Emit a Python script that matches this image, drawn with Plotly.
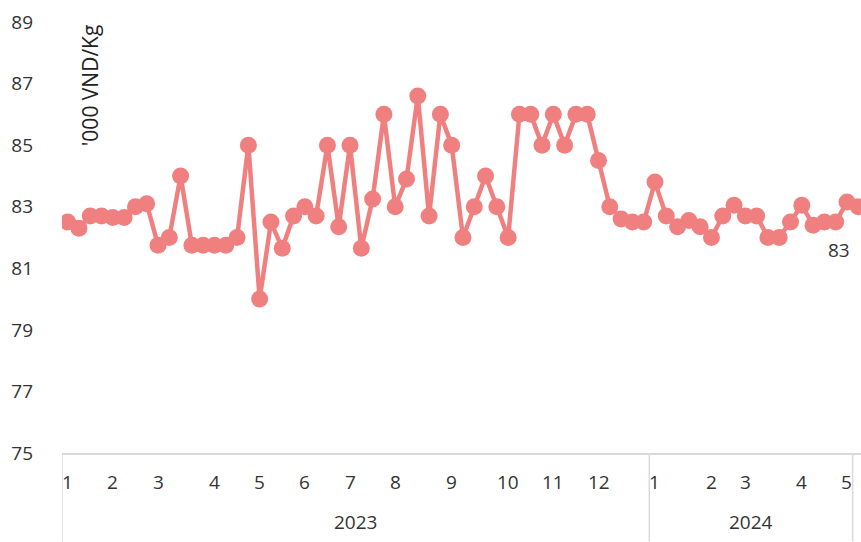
import plotly.graph_objects as go

# Weekly price series ('000 VND/Kg), Jan 2023 onward
values = [82.5, 82.3, 82.7, 82.7, 82.65, 82.65, 83.0, 83.1, 81.75, 82.0,
          84.0, 81.75, 81.75, 81.75, 81.75, 82.0, 85.0, 80.0, 82.5, 81.65,
          82.7, 83.0, 82.7, 85.0, 82.35, 85.0, 81.65, 83.25, 86.0, 83.0,
          83.9, 86.6, 82.7, 86.0, 85.0, 82.0, 83.0, 84.0, 83.0, 82.0,
          86.0, 86.0, 85.0, 86.0, 85.0, 86.0, 86.0, 84.5, 83.0, 82.6,
          82.5, 82.5, 83.8, 82.7, 82.35, 82.55, 82.35, 82.0, 82.7, 83.05,
          82.7, 82.7, 82.0, 82.0, 82.5, 83.05, 82.4, 82.5, 82.5, 83.15,
          83.0]

# month labels: (category index, label)
month_idx = [0, 4, 8, 13, 17, 21, 25, 29, 34, 39, 43, 47, 52, 57, 60, 65, 69]
month_lbl = ["1", "2", "3", "4", "5", "6", "7", "8", "9", "10", "11", "12",
             "1", "2", "3", "4", "5"]
# year groups: (first index, last index, label)
year_start = [0, 52]
year_end = [51, 69]
year_lbl = ["2023", "2024"]
last_label = "83"
y_title = "'000 VND/Kg"
y_ticks = [75, 77, 79, 81, 83, 85, 87, 89]

color = "#F08080"
txt = "#333333"
font = "Open Sans"
fs = 19

x = list(range(len(values)))

fig = go.Figure()
fig.add_trace(go.Scatter(
    x=x, y=values, mode="lines+markers",
    line=dict(color=color, width=4.5),
    marker=dict(color=color, size=17),
    hoverinfo="skip", showlegend=False,
))

W, H = 861, 542
ml, mt, mb = 62, 22, 88.5
plot_h = H - mt - mb

annotations = []
for i, t in zip(month_idx, month_lbl):
    annotations.append(dict(x=i, y=-29.5 / plot_h, xref="x", yref="paper",
                            text=t, showarrow=False, xanchor="center",
                            yanchor="middle", font=dict(size=fs, color=txt, family=font)))
for s, e, t in zip(year_start, year_end, year_lbl):
    annotations.append(dict(x=(s + e) / 2, y=-69.5 / plot_h, xref="x", yref="paper",
                            text=t, showarrow=False, xanchor="center",
                            yanchor="middle", font=dict(size=fs, color=txt, family=font)))
annotations.append(dict(x=2.0, y=89, xref="x", yref="y", text=y_title,
                        textangle=-90, showarrow=False, xanchor="center",
                        yanchor="top", font=dict(size=21, color="#222222", family=font)))
annotations.append(dict(x=68.3, y=81.6, xref="x", yref="y", text=last_label,
                        showarrow=False, xanchor="center", yanchor="middle",
                        font=dict(size=fs, color=txt, family=font)))

shapes = []
for b in [year_start[0] - 0.5] + [e + 0.5 for e in year_end]:
    shapes.append(dict(type="line", xref="x", yref="paper", x0=b, x1=b,
                       y0=0, y1=-mb / plot_h, line=dict(color="#d9d9d9", width=1.5)))

fig.update_layout(
    width=W, height=H,
    margin=dict(l=ml, r=0, t=mt, b=mb),
    paper_bgcolor="white", plot_bgcolor="white",
    font=dict(family=font, size=fs, color=txt),
    xaxis=dict(range=[-0.5, 70.24], showgrid=False, zeroline=False,
               showticklabels=False, ticks="", showline=True,
               linecolor="#d9d9d9", linewidth=1.5),
    yaxis=dict(range=[75, 89], tickvals=y_ticks, showgrid=False,
               zeroline=False, showline=False, ticks="",
               ticklabelstandoff=28,
               tickfont=dict(size=fs, color=txt, family=font)),
    annotations=annotations,
    shapes=shapes,
)

fig.write_html("out.html", config={"displayModeBar": False},
               post_script="document.body.style.margin='0';document.body.style.overflow='hidden';")
